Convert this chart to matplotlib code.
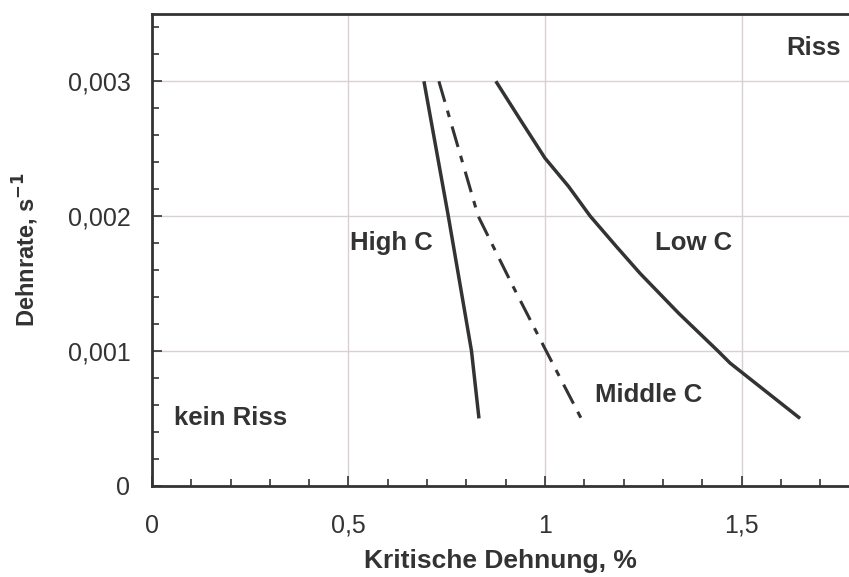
import matplotlib
matplotlib.use("Agg")
import matplotlib.pyplot as plt
from matplotlib.ticker import MultipleLocator, FuncFormatter

# critical strain (%) vs. strain rate (1/s) for three carbon levels
high_c_strain = [0.692, 0.754, 0.813, 0.832]
high_c_rate = [0.003, 0.002, 0.001, 0.0005]

middle_c_strain = [0.730, 0.830, 0.915, 1.003, 1.092]
middle_c_rate = [0.003, 0.002, 0.0015, 0.001, 0.0005]

low_c_strain = [0.875, 0.936, 1.0, 1.06, 1.115, 1.18, 1.242, 1.34, 1.44, 1.471, 1.649]
low_c_rate = [0.003, 0.00272, 0.00243, 0.00222, 0.002, 0.00178, 0.001575,
              0.00128, 0.001, 0.00091, 0.0005]

INK = "#333333"
GRID = "#d9d0d0"

plt.rcParams["font.family"] = ["Liberation Sans", "DejaVu Sans"]

fig = plt.figure(figsize=(8.49, 5.77), dpi=100)
ax = fig.add_axes([0.179, 0.158, 0.821, 0.818])

ax.plot(high_c_strain, high_c_rate, color=INK, lw=2.5, solid_capstyle="butt")
ax.plot(middle_c_strain, middle_c_rate, color=INK, lw=2.2,
        linestyle=(0, (7, 3, 2.2, 3.2)))
ax.plot(low_c_strain, low_c_rate, color=INK, lw=2.5, solid_capstyle="butt")

ax.set_xlim(0, 1.7735)
ax.set_ylim(0, 0.0035)

ax.xaxis.set_major_locator(MultipleLocator(0.5))
ax.xaxis.set_minor_locator(MultipleLocator(0.1))
ax.yaxis.set_major_locator(MultipleLocator(0.001))
ax.yaxis.set_minor_locator(MultipleLocator(0.0002))

def comma_fmt(v, pos):
    if abs(v) < 1e-12:
        return "0"
    s = f"{v:.3f}".rstrip("0").rstrip(".")
    return s.replace(".", ",")

ax.xaxis.set_major_formatter(FuncFormatter(comma_fmt))
ax.yaxis.set_major_formatter(FuncFormatter(comma_fmt))

ax.tick_params(which="both", direction="in", colors=INK, labelcolor=INK,
               labelsize=18, width=1.2)
ax.tick_params(which="major", length=7)
ax.tick_params(which="minor", length=5)
ax.tick_params(axis="x", which="major", pad=20)
ax.tick_params(axis="y", which="major", pad=15.5)

ax.grid(True, which="major", color=GRID, lw=1.0)
ax.set_axisbelow(True)

for side in ["left", "bottom", "top"]:
    ax.spines[side].set_color(INK)
    ax.spines[side].set_linewidth(2.0)
ax.spines["right"].set_visible(False)

ax.set_xlabel("Kritische Dehnung, %", fontsize=19, fontweight="bold",
              color=INK, labelpad=8)
ax.set_ylabel("Dehnrate, s$^{\\mathbf{-1}}$", fontsize=17, fontweight="bold",
              color=INK, labelpad=19)

lab = dict(fontsize=18.5, fontweight="bold", color=INK, ha="center", va="center")
ax.text(0.608, 0.0018, "High C", **lab)
ax.text(1.377, 0.0018, "Low C", **lab)
ax.text(1.263, 0.00067, "Middle C", **lab)
ax.text(0.20, 0.000504, "kein Riss", **lab)
ax.text(1.684, 0.00325, "Riss", **lab)

fig.savefig("out.png", dpi=100)
